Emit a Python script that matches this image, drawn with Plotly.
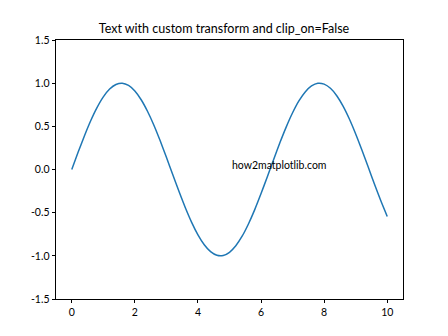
import plotly.graph_objects as go

x_vals = [0.0, 0.2, 0.4, 0.6, 0.8, 1.0, 1.2, 1.4, 1.6, 1.8, 2.0, 2.2, 2.4, 2.6, 2.8, 3.0,
          3.2, 3.4, 3.6, 3.8, 4.0, 4.2, 4.4, 4.6, 4.8, 5.0, 5.2, 5.4, 5.6, 5.8, 6.0, 6.2,
          6.4, 6.6, 6.8, 7.0, 7.2, 7.4, 7.6, 7.8, 8.0, 8.2, 8.4, 8.6, 8.8, 9.0, 9.2, 9.4,
          9.6, 9.8, 10.0]
y_vals = [0.000, 0.199, 0.389, 0.565, 0.717, 0.841, 0.932, 0.985, 1.000, 0.974, 0.909,
          0.808, 0.675, 0.516, 0.335, 0.141, -0.058, -0.256, -0.443, -0.612, -0.757,
          -0.872, -0.952, -0.994, -0.996, -0.959, -0.883, -0.773, -0.631, -0.465, -0.279,
          -0.083, 0.117, 0.312, 0.494, 0.657, 0.794, 0.899, 0.968, 0.999, 0.989, 0.941,
          0.855, 0.734, 0.585, 0.412, 0.223, 0.025, -0.174, -0.366, -0.544]

title_text = "Text with custom transform and clip_on=False"
label_text = "how2matplotlib.com"
label_x, label_y = 5, 0
x_ticks = [0, 2, 4, 6, 8, 10]
y_ticks = [-1.5, -1.0, -0.5, 0.0, 0.5, 1.0, 1.5]

FONT = "Lato, 'DejaVu Sans', sans-serif"

fig = go.Figure()
fig.add_trace(go.Scatter(x=x_vals, y=y_vals, mode="lines",
                         line=dict(color="#1f77b4", width=1.5, shape="spline", smoothing=0.6),
                         showlegend=False, hoverinfo="skip"))

fig.add_annotation(x=label_x, y=label_y, xref="x", yref="y", text=label_text,
                   showarrow=False, xanchor="left", yanchor="bottom", yshift=-3,
                   font=dict(family=FONT, size=10.5, color="black"))

axis_common = dict(showline=True, linecolor="black", linewidth=0.8, mirror=True,
                   ticks="outside", ticklen=3.5, tickwidth=0.8, tickcolor="black",
                   showgrid=False, zeroline=False,
                   tickfont=dict(family=FONT, size=10.5, color="black"))

fig.update_layout(
    width=448, height=336,
    margin=dict(l=56, r=45, t=40, b=37),
    paper_bgcolor="white", plot_bgcolor="white",
    title=dict(text=title_text, x=0.5, xanchor="center", y=1 - 29 / 336, yanchor="middle",
               font=dict(family=FONT, size=12.5, color="black")),
    xaxis=dict(range=[-0.5, 10.5], tickvals=x_ticks, ticktext=[str(t) for t in x_ticks],
               **axis_common),
    yaxis=dict(range=[-1.5, 1.5], tickvals=y_ticks, ticktext=[f"{t:.1f}" for t in y_ticks],
               **axis_common),
)

fig.write_html("out.html")
